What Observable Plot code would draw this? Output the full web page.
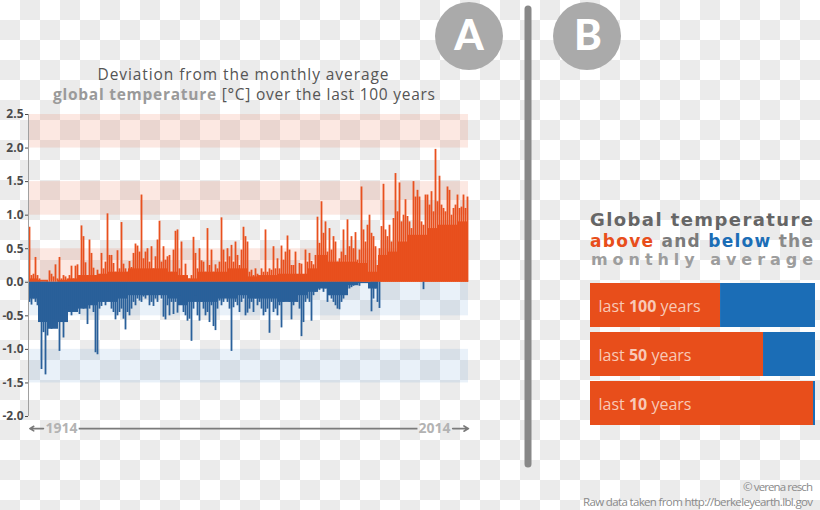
<!DOCTYPE html>
<html><head><meta charset="utf-8">
<script src="https://cdn.jsdelivr.net/npm/d3@7"></script>
<script src="https://cdn.jsdelivr.net/npm/@observablehq/plot@0.6"></script>
<style>
html,body{margin:0;padding:0}
body{width:820px;height:510px;overflow:hidden;position:relative;background-color:#fff;
background-image:conic-gradient(#ebebeb 0deg 90deg,#fff 90deg 180deg,#ebebeb 180deg 270deg,#fff 270deg 360deg);
background-size:40px 40px;font-family:"Open Sans",sans-serif}
#overlay{position:absolute;left:0;top:0}
#main{position:absolute;left:0;top:100px}
#share{position:absolute;left:580px;top:282px}
</style></head><body>
<svg id="overlay" width="820" height="510" font-family="'Open Sans', sans-serif">
  <circle cx="469" cy="36" r="34" fill="#aaaaaa"/>
  <text x="469" y="50" text-anchor="middle" font-family="Lato, 'Open Sans', sans-serif" font-weight="900" font-size="42" fill="#fff">A</text>
  <circle cx="587" cy="36" r="34" fill="#aaaaaa"/>
  <text x="588" y="50" text-anchor="middle" font-family="Lato, 'Open Sans', sans-serif" font-weight="900" font-size="42" fill="#fff">B</text>
  <line x1="528" y1="9" x2="528" y2="464" stroke="#888" stroke-width="7" stroke-linecap="round"/>
  <text text-anchor="middle" font-size="15.5" fill="#555"><tspan x="243" y="79.5" textLength="291">Deviation from the monthly average</tspan><tspan x="244" y="99.5" textLength="382"><tspan font-weight="700" fill="#9a9a9a">global temperature</tspan> [°C] over the last 100 years</tspan></text>
  <g font-family="'DejaVu Sans', sans-serif" font-weight="700">
    <text x="590" y="226" font-size="18" fill="#666" textLength="223">Global temperature</text>
    <text x="590" y="246.5" font-size="17" textLength="223"><tspan fill="#e84e1b">above</tspan><tspan fill="#7a7a7a"> and </tspan><tspan fill="#1b6db6">below</tspan><tspan fill="#8a8a8a"> the</tspan></text>
    <text x="591" y="265" font-size="16" fill="#9d9d9d" textLength="222">monthly average</text>
  </g>
  <text x="813" y="491" text-anchor="end" font-size="11.5" fill="#8a8a8a" textLength="70">© verena resch</text>
  <text x="813" y="506" text-anchor="end" font-size="11.5" fill="#8a8a8a" textLength="230">Raw data taken from http://berkeleyearth.lbl.gov</text>
</svg>
<div id="main"></div>
<div id="share"></div>
<script>
// ---- data ----
const yearSpan = [1914, 2014];
const yTicks = [-2, -1.5, -1, -0.5, 0, 0.5, 1, 1.5, 2, 2.5];
const bandLow  = [2, 1, 0, -0.5, -1.5];
const bandHigh = [2.5, 1.5, 0.5, 0, -1];
const bandKind = ["warm", "warm", "warm", "cold", "cold"];

// highest warm / lowest cold monthly deviation in each of 220 equal slices of 1914–2014
const warmPeak = [
0.82,0.10,0.12,0.37,0.10,0.05,0.00,0.00,0.00,0.02,
0.17,0.12,0.08,0.26,0.05,0.37,0.05,0.10,0.08,0.05,
0.10,0.24,0.05,0.24,0.26,0.10,0.84,0.68,0.29,0.10,
0.63,0.43,0.21,0.10,0.18,0.08,0.43,0.20,0.30,1.02,
0.40,0.40,0.28,0.15,0.47,0.20,0.89,0.27,0.20,0.15,
0.31,0.22,0.43,0.57,0.54,
0.45,1.30,0.35,0.45,0.50,0.30,0.53,0.20,0.38,0.63,
0.91,0.30,0.53,0.33,0.38,0.40,0.15,0.48,0.76,0.78,
0.20,0.60,0.10,0.27,0.05,0.05,0.10,0.67,0.43,0.20,
0.50,0.32,0.30,0.15,0.80,0.25,0.48,0.15,0.26,0.20,
0.30,0.96,0.48,0.30,0.50,0.38,0.55,0.30,0.60,0.40,
0.25,0.48,0.82,0.68,0.60,
0.15,0.18,0.10,0.20,0.12,0.08,0.20,0.15,0.78,0.15,
0.20,0.18,0.53,0.20,0.35,0.20,0.54,0.33,0.45,0.69,
0.48,0.25,0.25,0.45,0.10,0.28,0.27,0.10,0.48,0.30,
0.43,0.31,0.26,0.40,0.97,0.58,1.20,0.73,0.90,0.45,
0.80,0.48,0.68,0.60,0.30,0.35,0.45,0.78,0.40,0.93,
0.53,0.68,0.50,0.74,0.33,
0.48,1.42,0.78,0.60,0.85,1.00,0.73,0.68,0.53,0.25,
0.50,0.83,1.46,0.78,0.68,0.85,0.60,0.95,1.62,1.05,
1.48,0.90,1.00,1.23,0.98,0.90,0.80,1.50,1.27,1.37,
1.27,0.90,0.85,1.30,1.30,1.15,1.35,1.05,1.98,1.20,
1.58,1.15,1.10,1.05,1.42,1.37,1.00,1.10,1.15,1.30,
1.10,1.12,1.30,1.10,1.27
];
const coldPeak = [
-0.30,-0.34,-0.25,-0.30,-0.35,-0.55,-1.30,-0.75,-1.38,-0.80,
-0.62,-0.70,-0.55,-0.60,-0.48,-1.03,-0.50,-0.83,-0.40,-0.45,
-0.35,-0.50,-0.40,-0.42,-0.30,-0.48,-0.25,-0.40,-0.35,-0.63,
-0.40,-0.30,-0.45,-1.05,-1.08,-0.40,-0.36,-0.30,-0.35,-0.15,
-0.28,-0.40,-0.45,-0.56,-0.50,-0.45,-0.40,-0.55,-0.71,-0.45,
-0.50,-0.40,-0.30,-0.35,-0.25,
-0.28,-0.30,-0.22,-0.25,-0.20,-0.35,-0.30,-0.36,-0.25,-0.30,
-0.15,-0.25,-0.52,-0.56,-0.35,-0.50,-0.30,-0.48,-0.30,-0.46,
-0.20,-0.30,-0.45,-0.50,-0.58,-0.55,-0.88,-0.40,-0.20,-0.50,
-0.58,-0.30,-0.40,-0.50,-0.45,-0.60,-0.35,-0.66,-0.72,-0.40,
-0.28,-0.35,-0.30,-0.20,-0.30,-0.40,-1.03,-0.38,-0.30,-0.35,
-0.45,-0.30,-0.25,-0.50,-0.46,
-0.40,-0.30,-0.45,-0.25,-0.35,-0.30,-0.40,-0.50,-0.45,-0.40,
-0.76,-0.30,-0.45,-0.40,-0.50,-0.35,-0.68,-0.30,-0.28,-0.25,
-0.30,-0.56,-0.35,-0.25,-0.30,-0.40,-0.81,-0.60,-0.30,-0.25,
-0.30,-0.58,-0.20,-0.15,-0.10,-0.12,-0.08,-0.15,-0.10,-0.30,
-0.20,-0.25,-0.30,-0.35,-0.40,-0.41,-0.30,-0.25,-0.15,-0.10,
-0.10,-0.08,-0.06,-0.05,-0.05,
-0.06,0,0,0,0,0,-0.44,-0.25,-0.10,-0.30,
-0.39,0,0,0,0,0,0,0,0,0,
0,0,0,0,0,0,0,0,0,0,
0,0,-0.11,0,0,0,0,0,0,0,
0,0,0,0,0,0,0,0,0,0,
0,0,0,0,0
];
// dense "body" level of the bars in 44 equal slices
const warmBody = [
0.05,0.03,0.00,0.03,0.05,0.10,0.10,0.12,0.15,0.15,
0.20,0.20,0.20,0.20,0.15,0.10,0.05,0.15,0.15,0.15,
0.20,0.20,0.08,0.10,0.10,0.12,0.12,0.12,0.20,0.40,
0.30,0.30,0.30,0.28,0.15,0.40,0.45,0.60,0.70,0.70,
0.80,0.85,0.85,0.90
];
const coldBody = [
-0.25,-0.60,-0.70,-0.60,-0.45,-0.40,-0.35,-0.30,-0.30,-0.25,
-0.20,-0.20,-0.20,-0.20,-0.25,-0.35,-0.30,-0.30,-0.30,-0.25,
-0.25,-0.20,-0.25,-0.25,-0.25,-0.30,-0.30,-0.20,-0.15,-0.10,
-0.20,-0.20,-0.05,-0.02,-0.10,0,0,0,0,0,
0,0,0,0
];

// right panel
const periods = ["last 100 years", "last 50 years", "last 10 years"];
const abovePct = [57.8, 76.9, 99.1];

// ---- build ----
const orange = "#e8501e", blue = "#2a609a";
const span = yearSpan[1] - yearSpan[0];
const peaks = warmPeak.map((w, i) => ({year: yearSpan[0] + (i + 0.5) * span / warmPeak.length, warm: w, cold: coldPeak[i]}));
const bodies = warmBody.map((w, i) => ({x1: yearSpan[0] + i * span / warmBody.length, x2: yearSpan[0] + (i + 1) * span / warmBody.length, warm: w, cold: coldBody[i]}));
const bands = bandLow.map((lo, i) => ({lo, hi: bandHigh[i], kind: bandKind[i]}));
const arrowY = -2.18;

const main = Plot.plot({
  width: 480, height: 340,
  marginLeft: 28, marginRight: 12, marginTop: 14, marginBottom: 24,
  style: {background: "transparent", fontFamily: "'Open Sans', sans-serif", fontSize: "12px", fontWeight: "700", color: "#4a4a4a", overflow: "visible"},
  x: {domain: yearSpan, axis: null},
  y: {domain: [-2, 2.5], ticks: yTicks, tickFormat: d => d.toFixed(1), tickSize: 3, tickPadding: 2, label: null},
  marks: [
    Plot.rect(bands.filter(d => d.kind === "warm"), {x1: () => yearSpan[0], x2: () => yearSpan[1], y1: "lo", y2: "hi", fill: orange, fillOpacity: 0.13}),
    Plot.rect(bands.filter(d => d.kind === "cold"), {x1: () => yearSpan[0], x2: () => yearSpan[1], y1: "lo", y2: "hi", fill: "#3a7fc4", fillOpacity: 0.11}),
    Plot.rect(bodies, {x1: "x1", x2: "x2", y1: () => 0, y2: "warm", fill: orange}),
    Plot.rect(bodies, {x1: "x1", x2: "x2", y1: () => 0, y2: "cold", fill: blue}),
    Plot.ruleX(peaks.filter(d => d.warm > 0), {x: "year", y1: () => 0, y2: "warm", stroke: orange, strokeWidth: 1.8}),
    Plot.ruleX(peaks.filter(d => d.cold < 0), {x: "year", y1: () => 0, y2: "cold", stroke: blue, strokeWidth: 1.8}),
    Plot.ruleX([yearSpan[0]], {y1: -2, y2: 2.5, stroke: "#a0a0a0", strokeWidth: 1}),
    // time arrow below the chart
    Plot.arrow([yearSpan[0]], {x1: d => d + 3.4, x2: d => d + 0.3, y1: () => arrowY, y2: () => arrowY, stroke: "#7a7a7a", strokeWidth: 1.6, headLength: 7}),
    Plot.arrow([yearSpan[1]], {x1: d => d - 3.6, x2: d => d, y1: () => arrowY, y2: () => arrowY, stroke: "#7a7a7a", strokeWidth: 1.6, headLength: 7}),
    Plot.link([0], {x1: () => yearSpan[0] + 11.4, x2: () => yearSpan[1] - 11.6, y1: () => arrowY, y2: () => arrowY, stroke: "#7a7a7a", strokeWidth: 1.6}),
    Plot.text(yearSpan, {x: d => d === yearSpan[0] ? d + 7.5 : d - 7.7, y: () => arrowY, text: d => String(d), fill: "#b3b3b3", fontSize: 14, fontWeight: 700})
  ]
});
document.getElementById("main").appendChild(main);

const shares = periods.map((p, i) => ({period: p, above: abovePct[i]}));
const share = Plot.plot({
  width: 240, height: 143,
  marginLeft: 10, marginRight: 5, marginTop: 0, marginBottom: 0,
  style: {background: "transparent", fontFamily: "'Open Sans', sans-serif", overflow: "visible"},
  x: {domain: [0, 100], axis: null},
  y: {domain: periods, axis: null, paddingInner: 0.11, paddingOuter: 0},
  marks: [
    Plot.barX(shares, {y: "period", x1: 0, x2: "above", fill: "#e84e1b"}),
    Plot.barX(shares, {y: "period", x1: "above", x2: 100, fill: "#1b6db6"}),
    Plot.text(shares, {y: "period", x: 0, dx: 8, dy: 1, text: "period", textAnchor: "start", fill: "#f8c9b6", fontSize: 16})
  ]
});
document.getElementById("share").appendChild(share);
d3.select(share).selectAll('g[aria-label="text"] text').each(function () {
  const m = this.textContent.match(/^(\D*)(\d+)(.*)$/);
  if (!m) return;
  this.textContent = "";
  const s = d3.select(this);
  s.append("tspan").text(m[1]);
  s.append("tspan").attr("font-weight", "700").text(m[2]);
  s.append("tspan").text(m[3]);
});
</script>
</body></html>
